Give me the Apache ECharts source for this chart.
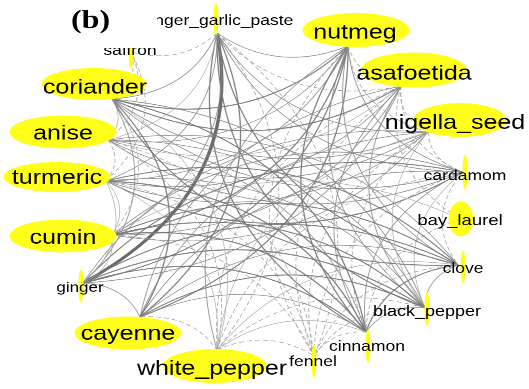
<!DOCTYPE html>
<html>
<head>
<meta charset="utf-8">
<script src="https://cdn.jsdelivr.net/npm/echarts@6/dist/echarts.min.js"></script>
<style>
  html, body { margin: 0; padding: 0; background: #fff; overflow: hidden; }
  #wrap { width: 529px; height: 389px; overflow: hidden; }
  /* the figure is laid out on a taller canvas and flattened vertically */
  #chart { width: 529px; height: 474px; transform: scaleY(0.82068); transform-origin: 0 0; }
</style>
</head>
<body>
<div id="wrap"><div id="chart"></div></div>
<script>
// vertical flattening applied to the whole figure
const SQ = 389 / 474;

// spices in the network
const nodeNames = ['ginger_garlic_paste', 'nutmeg', 'asafoetida', 'nigella_seed', 'cardamom',
  'bay_laurel', 'clove', 'black_pepper', 'cinnamon', 'fennel', 'white_pepper', 'cayenne',
  'ginger', 'cumin', 'turmeric', 'anise', 'coriander', 'saffron'];

// layout: point where each node's edges meet (px)
const anchorX = [217, 348, 401, 428, 463, 460, 458, 425, 366, 314, 217, 140, 83, 112, 106, 108, 112, 131];
const anchorY = [33, 46, 86, 132, 172, 219, 265, 308, 332, 356, 350, 317, 283, 235, 181, 140, 99, 52];
// layout: centre and size of each node ellipse (px)
const ellipseX = [216, 356, 414, 460, 465, 461, 463, 427, 368, 314, 215, 128, 81, 63, 57, 63, 94, 131];
const ellipseY = [19, 30, 70, 120, 172, 219, 267, 309, 346, 361, 366, 333, 286, 236, 177, 132, 84, 52];
const ellipseW = [5, 107, 106, 93, 5, 25, 5, 5, 5, 5, 104, 107, 5, 107, 107, 107, 105, 5];
const ellipseH = [32, 34, 35, 34, 35, 35, 33, 34, 33, 33, 34, 33, 33, 33, 30, 33, 32, 33];
// label size and nudge from the ellipse centre
const labelFont = [17.5, 25, 25, 25, 17.5, 18.5, 17.5, 18, 17.5, 17.5, 25, 25, 17, 25, 25, 25, 25, 17.5];
const labelDX = [1, -1, 0, -5, 0, -1, 0, 0, -1, -1, -3, 0, -1, 0, 0, 0, 1, -1];
const labelDY = [2, 3, 4, 3, 4, 2, 2, 3, 1, 1, 3, 1, 2, 2, 1, 2, 4, -1];

// edges: [source, target, strength 1-5, dashed]
const edgeList = [
  ['ginger_garlic_paste', 'ginger', 5, 0],
  ['ginger_garlic_paste', 'nutmeg', 2, 0],
  ['ginger_garlic_paste', 'asafoetida', 1, 1],
  ['ginger_garlic_paste', 'nigella_seed', 2, 0],
  ['ginger_garlic_paste', 'cardamom', 2, 0],
  ['ginger_garlic_paste', 'clove', 3, 0],
  ['ginger_garlic_paste', 'black_pepper', 3, 0],
  ['ginger_garlic_paste', 'cinnamon', 3, 0],
  ['ginger_garlic_paste', 'cayenne', 3, 0],
  ['ginger_garlic_paste', 'cumin', 2, 0],
  ['ginger_garlic_paste', 'turmeric', 2, 0],
  ['ginger_garlic_paste', 'coriander', 2, 0],
  ['ginger_garlic_paste', 'anise', 1, 0],
  ['ginger_garlic_paste', 'white_pepper', 1, 1],
  ['ginger_garlic_paste', 'fennel', 1, 1],
  ['ginger_garlic_paste', 'saffron', 1, 1],

  ['nutmeg', 'ginger', 3, 0],
  ['nutmeg', 'cayenne', 3, 0],
  ['nutmeg', 'cumin', 3, 0],
  ['nutmeg', 'turmeric', 2, 0],
  ['nutmeg', 'coriander', 3, 0],
  ['nutmeg', 'anise', 2, 0],
  ['nutmeg', 'white_pepper', 2, 0],
  ['nutmeg', 'fennel', 1, 1],
  ['nutmeg', 'cinnamon', 3, 0],
  ['nutmeg', 'black_pepper', 2, 0],
  ['nutmeg', 'clove', 2, 0],
  ['nutmeg', 'asafoetida', 1, 1],
  ['nutmeg', 'cardamom', 2, 0],
  ['nutmeg', 'nigella_seed', 1, 1],

  ['asafoetida', 'ginger', 2, 0],
  ['asafoetida', 'cayenne', 2, 0],
  ['asafoetida', 'cumin', 2, 0],
  ['asafoetida', 'turmeric', 2, 0],
  ['asafoetida', 'coriander', 3, 0],
  ['asafoetida', 'anise', 1, 0],
  ['asafoetida', 'white_pepper', 1, 1],
  ['asafoetida', 'fennel', 1, 1],
  ['asafoetida', 'cinnamon', 2, 0],
  ['asafoetida', 'black_pepper', 2, 0],
  ['asafoetida', 'nigella_seed', 1, 1],
  ['asafoetida', 'cardamom', 1, 1],
  ['asafoetida', 'bay_laurel', 1, 1],

  ['nigella_seed', 'turmeric', 2, 0],
  ['nigella_seed', 'cumin', 2, 0],
  ['nigella_seed', 'anise', 2, 0],
  ['nigella_seed', 'coriander', 2, 0],
  ['nigella_seed', 'ginger', 2, 0],
  ['nigella_seed', 'cayenne', 2, 0],
  ['nigella_seed', 'white_pepper', 1, 0],
  ['nigella_seed', 'fennel', 1, 1],
  ['nigella_seed', 'cinnamon', 1, 1],
  ['nigella_seed', 'cardamom', 1, 1],
  ['nigella_seed', 'black_pepper', 1, 0],

  ['cardamom', 'turmeric', 3, 0],
  ['cardamom', 'cumin', 2, 0],
  ['cardamom', 'anise', 2, 0],
  ['cardamom', 'coriander', 2, 0],
  ['cardamom', 'ginger', 3, 0],
  ['cardamom', 'cayenne', 2, 0],
  ['cardamom', 'cinnamon', 2, 0],
  ['cardamom', 'clove', 1, 1],
  ['cardamom', 'white_pepper', 1, 1],
  ['cardamom', 'black_pepper', 1, 0],
  ['cardamom', 'fennel', 1, 1],

  ['bay_laurel', 'cumin', 1, 0],
  ['bay_laurel', 'cinnamon', 1, 1],

  ['clove', 'coriander', 3, 0],
  ['clove', 'anise', 2, 0],
  ['clove', 'turmeric', 3, 0],
  ['clove', 'cumin', 3, 0],
  ['clove', 'ginger', 3, 0],
  ['clove', 'cayenne', 2, 0],
  ['clove', 'cinnamon', 3, 0],
  ['clove', 'black_pepper', 2, 0],
  ['clove', 'white_pepper', 1, 0],
  ['clove', 'fennel', 1, 1],

  ['black_pepper', 'coriander', 2, 0],
  ['black_pepper', 'anise', 2, 0],
  ['black_pepper', 'turmeric', 2, 0],
  ['black_pepper', 'cumin', 3, 0],
  ['black_pepper', 'ginger', 3, 0],
  ['black_pepper', 'cayenne', 3, 0],
  ['black_pepper', 'cinnamon', 2, 0],
  ['black_pepper', 'white_pepper', 1, 1],
  ['black_pepper', 'fennel', 1, 1],

  ['cinnamon', 'coriander', 3, 0],
  ['cinnamon', 'anise', 2, 0],
  ['cinnamon', 'turmeric', 3, 0],
  ['cinnamon', 'cumin', 3, 0],
  ['cinnamon', 'ginger', 3, 0],
  ['cinnamon', 'cayenne', 2, 0],
  ['cinnamon', 'white_pepper', 1, 0],
  ['cinnamon', 'fennel', 1, 1],

  ['coriander', 'cayenne', 3, 0],
  ['coriander', 'anise', 1, 0],
  ['coriander', 'cumin', 1, 1],
  ['coriander', 'ginger', 2, 0],
  ['coriander', 'white_pepper', 1, 0],
  ['coriander', 'saffron', 1, 1],
  ['anise', 'turmeric', 1, 1],
  ['anise', 'white_pepper', 1, 1],
  ['anise', 'fennel', 1, 1],
  ['anise', 'saffron', 1, 1],
  ['turmeric', 'cumin', 1, 0],
  ['turmeric', 'ginger', 1, 0],
  ['turmeric', 'white_pepper', 1, 0],
  ['turmeric', 'fennel', 1, 1],
  ['turmeric', 'saffron', 1, 1],
  ['cumin', 'ginger', 1, 0],
  ['cumin', 'fennel', 1, 1],
  ['ginger', 'cayenne', 2, 0],
  ['cayenne', 'white_pepper', 1, 1],
  ['white_pepper', 'fennel', 1, 1]
];

// line look per strength
const strengthWidth = [0, 0.7, 0.9, 1.3, 2.0, 3.4];
const strengthColor = ['', '#a6a6a6', '#8c8c8c', '#767676', '#666666', '#5a5a5a'];

const CX = 272, CY = 195;
const idx = {};
nodeNames.forEach((n, i) => { idx[n] = i; });
const angleOf = i => Math.atan2(anchorY[i] - CY, anchorX[i] - CX);

const nodes = nodeNames.map((name, i) => ({
  name: name,
  value: [anchorX[i], anchorY[i]],
  symbol: 'circle',
  symbolSize: [ellipseW[i], ellipseH[i] / SQ],
  symbolOffset: [ellipseX[i] - anchorX[i], (ellipseY[i] - anchorY[i]) / SQ],
  label: {
    fontSize: labelFont[i],
    offset: [labelDX[i], labelDY[i] / SQ]
  }
}));

// every edge bows toward the middle of the ring
const links = edgeList.map(([s, t, w, dashed]) => {
  let a = angleOf(idx[s]), b = angleOf(idx[t]);
  let d = b - a;
  while (d < 0) d += Math.PI * 2;
  while (d >= Math.PI * 2) d -= Math.PI * 2;
  const curve = d < Math.PI ? -0.32 : 0.32;
  return {
    source: s,
    target: t,
    lineStyle: {
      width: dashed ? 0.8 : strengthWidth[w],
      color: dashed ? '#9c9c9c' : strengthColor[w],
      type: dashed ? [5, 3] : 'solid',
      curveness: curve,
      opacity: 0.9
    }
  };
});

const chart = echarts.init(document.getElementById('chart'), null, { renderer: 'canvas', devicePixelRatio: 2 });
chart.setOption({
  animation: false,
  backgroundColor: '#fff',
  grid: { left: 0, right: 0, top: 0, bottom: 0, containLabel: false },
  xAxis: { type: 'value', min: 0, max: 529, show: false },
  yAxis: { type: 'value', min: 0, max: 389, inverse: true, show: false },
  series: [{
    type: 'graph',
    coordinateSystem: 'cartesian2d',
    silent: true,
    data: nodes,
    links: links,
    itemStyle: { color: '#ffff1a' },
    label: {
      show: true,
      position: 'inside',
      color: '#000',
      fontFamily: '"Liberation Sans", Arial, sans-serif'
    },
    emphasis: { disabled: true }
  }],
  graphic: {
    z: 100,
    elements: [
      { type: 'rect', z: 100, shape: { x: 60, y: 0, width: 97, height: 48 / SQ }, style: { fill: '#fff' } },
      { type: 'text', z: 101, x: 71, y: 21 / SQ,
        style: { text: '(b)', fill: '#000', font: 'bold 32px "Liberation Serif", "Times New Roman", serif', verticalAlign: 'middle' } }
    ]
  }
});
</script>
</body>
</html>
